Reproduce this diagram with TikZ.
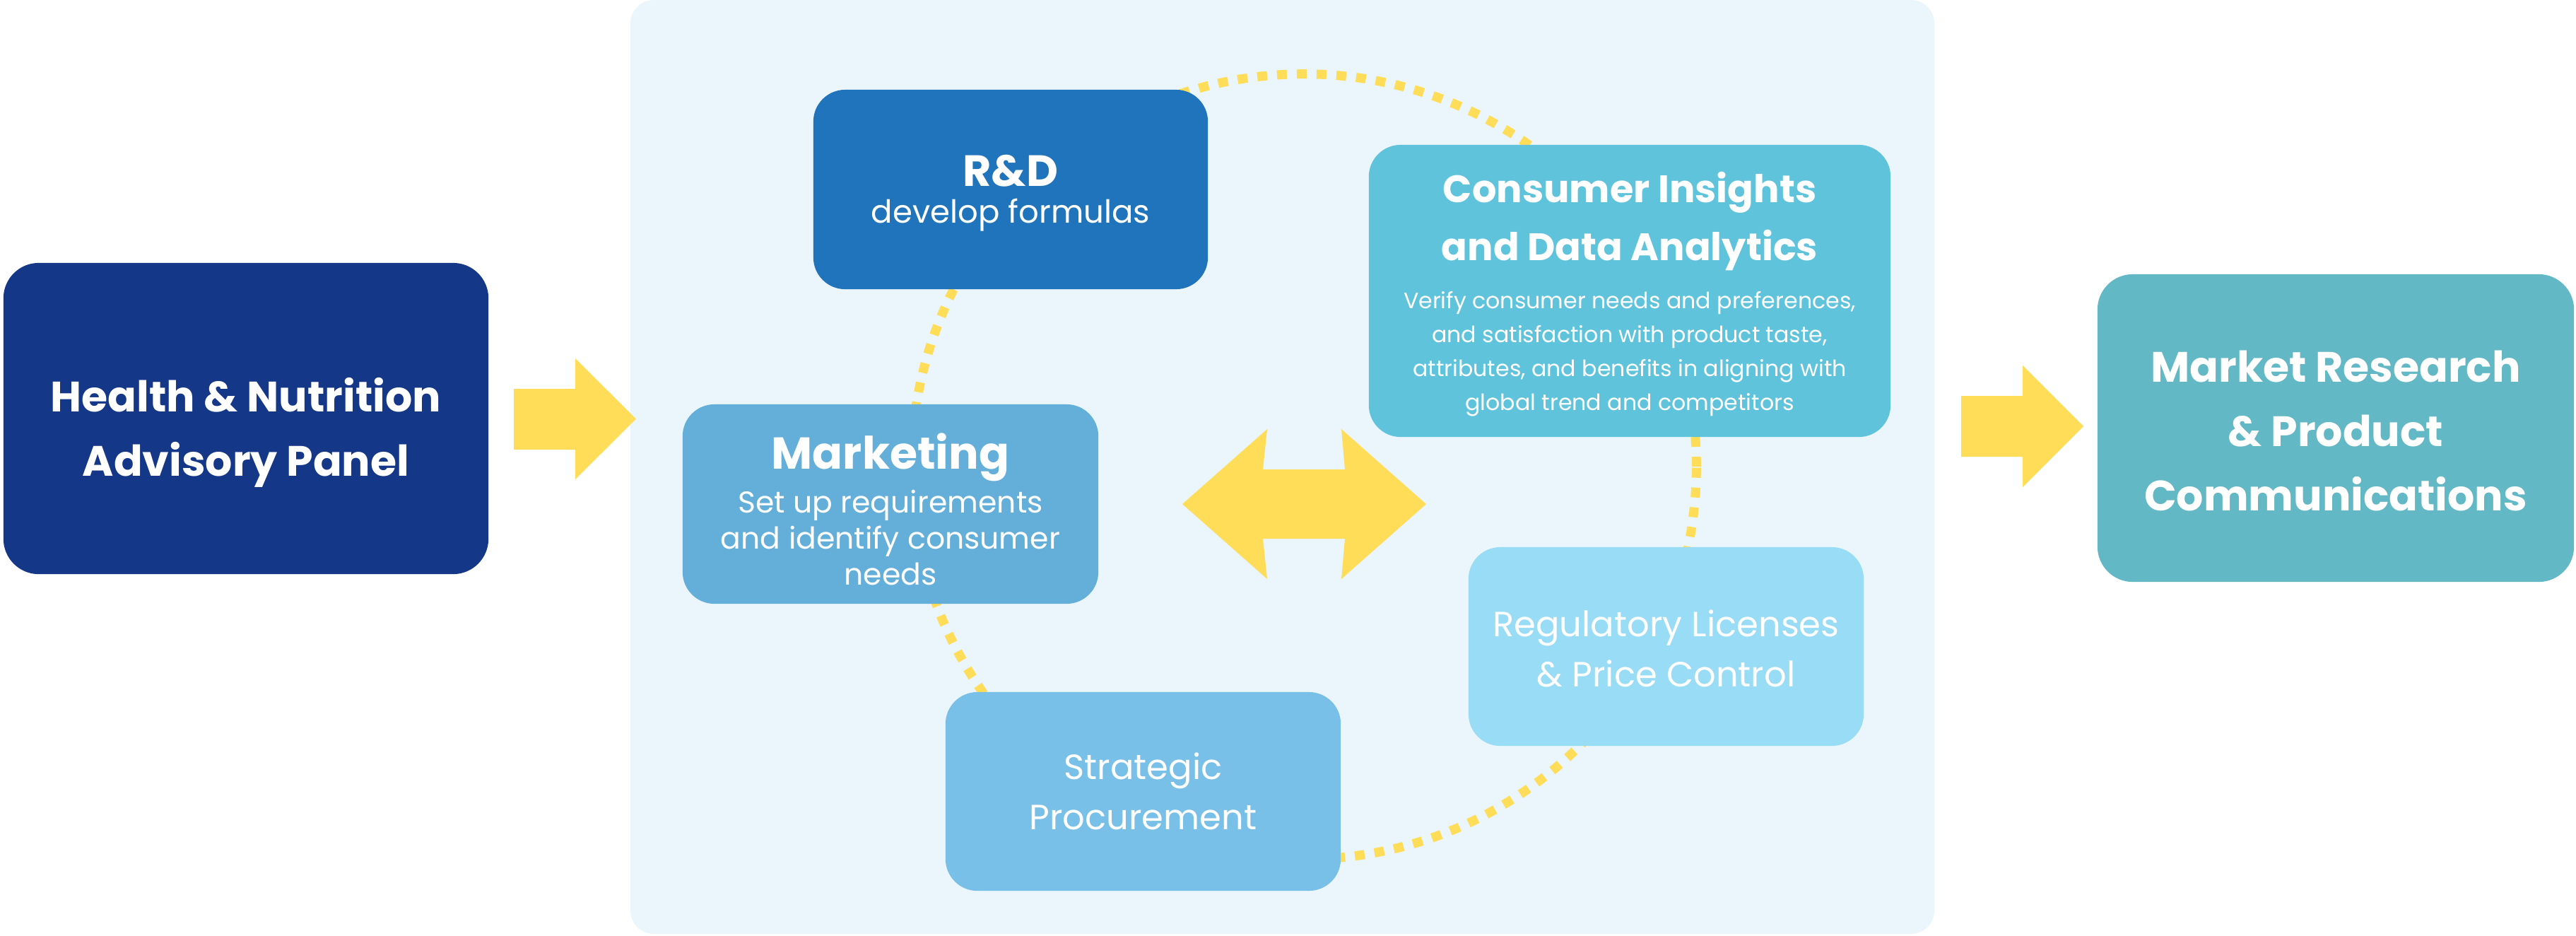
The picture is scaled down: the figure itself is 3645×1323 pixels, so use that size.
\documentclass[tikz,border=0pt]{standalone}
\usepackage{fontspec}
\setmainfont{Poppins}
\lineskiplimit=-100pt

\definecolor{advnavy}{HTML}{143788}
\definecolor{mrteal}{HTML}{62B8C4}
\definecolor{rdblue}{HTML}{1F74BB}
\definecolor{cicyan}{HTML}{5FC3DB}
\definecolor{mkblue}{HTML}{64AFD9}
\definecolor{rlblue}{HTML}{99DCF6}
\definecolor{spblue}{HTML}{79C0E8}
\definecolor{panelbg}{HTML}{EAF6FB}
\definecolor{flowyellow}{HTML}{FFDD59}

\newcommand\fnbig{\bfseries\fontsize{17.1}{25.9}\selectfont}
\newcommand\fnhead[1]{\bfseries\fontsize{#1}{#1}\selectfont}

\tikzset{
  bigcard/.style={rectangle, rounded corners=5mm, inner sep=0pt, minimum height=4.4cm},
  card/.style={rectangle, rounded corners=4.5mm, inner sep=0pt, minimum width=5.59cm, minimum height=2.81cm},
  cardtext/.style={text=white, align=center, inner sep=0pt},
  ring/.style={draw=flowyellow, line width=1.3mm, dash pattern=on 1.4mm off 1.4mm},
}

\begin{document}
\begin{tikzpicture}[x=0.01cm, y=-0.01cm]
	\useasboundingbox (0,0) rectangle (3645,1323);
	\fill[panelbg, rounded corners=3.3mm] (892,0) rectangle (2737,1321);
	\draw[ring] (1845,660) circle[radius=5.55cm];

	\draw (348,592) node[bigcard, fill=advnavy, minimum width=6.86cm] (hn) {};
	\draw ([yshift=-2mm]hn.center) node[cardtext, font=\fnbig] (hn-text) {Health \& Nutrition\\Advisory Panel};
	\draw (3305,605.5) node[bigcard, fill=mrteal, minimum width=6.74cm, minimum height=4.35cm] (mr) {};
	\draw ([yshift=-0.4mm]mr.center) node[cardtext, font=\fnbig] (mr-text) {Market Research\\\& Product\\Communications};

	\draw (1430,268) node[card, fill=rdblue, minimum width=5.58cm, minimum height=2.82cm] (rd) {};
	\draw ([yshift=-0.48mm]rd.center) node[cardtext, font=\fontsize{12.8}{14.8}\selectfont] (rd-text) {{\fnhead{17.6}R\&D}\\develop formulas};
	\draw (2306,411.5) node[card, fill=cicyan, minimum width=7.38cm, minimum height=4.13cm] (ci) {};
	\draw ([yshift=-0.47mm]ci.center) node[cardtext, font=\fontsize{9}{13.7}\selectfont] (ci-text) {{\fnhead{15.4}Consumer Insights}\\[9.6pt]{\fnhead{15.4}and Data Analytics}\\[5.6pt]Verify consumer needs and preferences,\\and satisfaction with product taste,\\attributes, and benefits in aligning with\\global trend and competitors};
	\draw (1260,713) node[card, fill=mkblue, minimum width=5.88cm, minimum height=2.82cm] (mk) {};
	\draw ([yshift=-0.73mm]mk.center) node[cardtext, font=\fontsize{12.1}{14.5}\selectfont] (mk-text) {{\fnhead{18}Marketing}\\[3.1pt]Set up requirements\\and identify consumer\\needs};
	\draw (2357.5,914.5) node[card, fill=rlblue] (rl) {};
	\draw ([yshift=-0.33mm]rl.center) node[cardtext, font=\fontsize{14.1}{20.2}\selectfont] (rl-text) {Regulatory Licenses\\\& Price Control};
	\draw (1617.5,1119.5) node[card, fill=spblue] (sp) {};
	\draw (sp.center) node[cardtext, font=\fontsize{14.1}{20.2}\selectfont] (sp-text) {Strategic\\Procurement};

	\fill[flowyellow] (727,550) -- (814,550) -- (814,507) -- (900,592.5) -- (814,678) -- (814,636) -- (727,636) -- cycle;
	\fill[flowyellow] (2775,560) -- (2862,560) -- (2862,517) -- (2948,603) -- (2862,689) -- (2862,646) -- (2775,646) -- cycle;
	\fill[flowyellow] (1673,713) -- (1793,607) -- (1787,664) -- (1903,664) -- (1898,607) -- (2018,713) -- (1898,819) -- (1903,762) -- (1787,762) -- (1793,819) -- cycle;
\end{tikzpicture}
\end{document}
